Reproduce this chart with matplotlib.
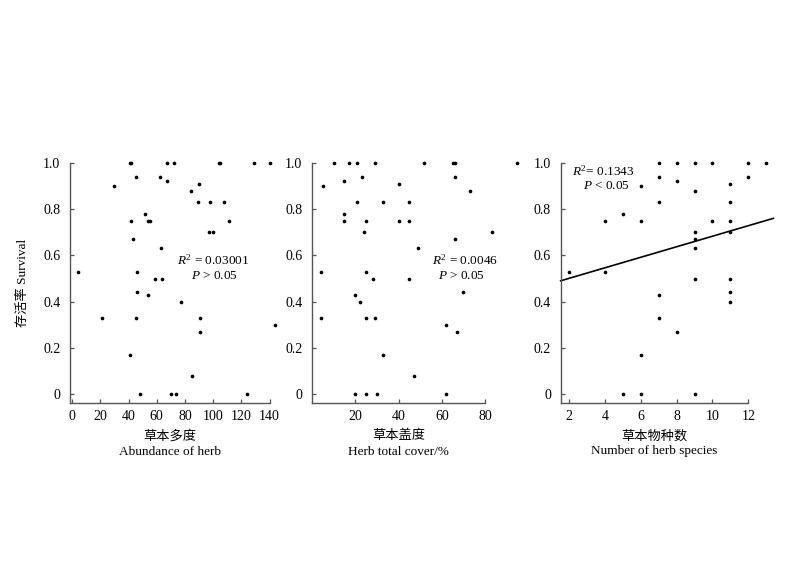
import matplotlib
matplotlib.use("Agg")
import matplotlib.pyplot as plt
import numpy as np

plt.rcParams['font.family'] = ['Liberation Serif', 'Noto Sans CJK SC']
plt.rcParams['mathtext.fontset'] = 'custom'
plt.rcParams['mathtext.rm'] = 'Liberation Serif'
plt.rcParams['mathtext.it'] = 'Liberation Serif:italic'

# Panel 1: abundance of herb
abund_x = [41, 42, 67, 72, 104, 105, 129, 140, 45, 62, 30, 67, 84, 90, 89, 98, 108, 111,
           42, 52, 54, 55, 97, 100, 43, 63, 4, 46, 59, 64, 46, 54, 77, 21, 45, 91, 91, 144,
           41, 85, 48, 70, 74, 124]
abund_y = [1.0, 1.0, 1.0, 1.0, 1.0, 1.0, 1.0, 1.0, 0.94, 0.94, 0.90, 0.92, 0.88, 0.91, 0.83, 0.83, 0.83, 0.75,
           0.75, 0.78, 0.75, 0.75, 0.70, 0.70, 0.67, 0.63, 0.53, 0.53, 0.50, 0.50, 0.44, 0.43, 0.40, 0.33, 0.33, 0.33, 0.27, 0.30,
           0.17, 0.08, 0.0, 0.0, 0.0, 0.0]

# Panel 2: herb total cover
cover_x = [10, 17, 21, 29, 52, 65, 66, 95, 5, 15, 23, 40, 66, 73, 21, 33, 45, 15, 15, 25, 40, 45,
           24, 83, 66, 49, 4, 25, 28, 45, 70, 20, 22, 4, 25, 29, 62, 67, 33, 47, 20, 25, 30, 62]
cover_y = [1.0, 1.0, 1.0, 1.0, 1.0, 1.0, 1.0, 1.0, 0.90, 0.92, 0.94, 0.91, 0.94, 0.88, 0.83, 0.83, 0.83, 0.78, 0.75, 0.75, 0.75, 0.75,
           0.70, 0.70, 0.67, 0.63, 0.53, 0.53, 0.50, 0.50, 0.44, 0.43, 0.40, 0.33, 0.33, 0.33, 0.30, 0.27, 0.17, 0.08, 0.0, 0.0, 0.0, 0.0]

# Panel 3: number of herb species
spec_x = [7, 8, 9, 10, 12, 13, 7, 12, 6, 8, 11, 9, 7, 11, 5, 4, 6, 10, 11, 9, 11, 9, 9,
          2, 4, 9, 11, 11, 7, 11, 7, 8, 6, 5, 6, 9]
spec_y = [1.0, 1.0, 1.0, 1.0, 1.0, 1.0, 0.94, 0.94, 0.90, 0.92, 0.91, 0.88, 0.83, 0.83, 0.78, 0.75, 0.75, 0.75, 0.75, 0.70, 0.70, 0.67, 0.63,
          0.53, 0.53, 0.50, 0.50, 0.44, 0.43, 0.40, 0.33, 0.27, 0.17, 0.0, 0.0, 0.0]

# fitted line for panel 3
fit_intercept = 0.455
fit_slope = 0.0228
fit_xrange = [1.54, 13.4]

y_ticks = [0, 0.2, 0.4, 0.6, 0.8, 1.0]
y_ticklabels = ["0", "0.2", "0.4", "0.6", "0.8", "1.0"]

panels = [
    dict(x=abund_x, y=abund_y, xlim=(-1.5, 140), xticks=[0, 20, 40, 60, 80, 100, 120, 140],
         cn="草本多度", en="Abundance of herb",
         r2=r"$R^2$ = 0.03001", p=r"$P$ > 0.05", tpos=(100, 0.58), ppos=(101, 0.51),
         rect=[0.0875, 0.2867, 0.2494, 0.4248]),
    dict(x=cover_x, y=cover_y, xlim=(0, 80), xticks=[20, 40, 60, 80],
         cn="草本盖度", en="Herb total cover/%",
         r2=r"$R^2$ = 0.0046", p=r"$P$ > 0.05", tpos=(70.8, 0.58), ppos=(69, 0.51),
         rect=[0.390, 0.2867, 0.2163, 0.4248]),
    dict(x=spec_x, y=spec_y, xlim=(1.54, 12), xticks=[2, 4, 6, 8, 10, 12],
         cn="草本物种数", en="Number of herb species",
         r2=r"$R^2$= 0.1343", p=r"$P$ < 0.05", tpos=(3.9, 0.964), ppos=(4.1, 0.90),
         rect=[0.7009, 0.2867, 0.2345, 0.4248]),
]

fig = plt.figure(figsize=(8, 5.65), dpi=100)
spine_col = '#555555'

for i, pnl in enumerate(panels):
    ax = fig.add_axes(pnl['rect'])
    ax.scatter(pnl['x'], pnl['y'], s=7, color='black', clip_on=False, zorder=3, linewidths=0)
    ax.set_xlim(*pnl['xlim'])
    ax.set_ylim(-0.039, 1.0)
    ax.set_xticks(pnl['xticks'])
    ax.set_xticklabels([str(t) for t in pnl['xticks']])
    ax.set_yticks(y_ticks)
    ax.set_yticklabels(y_ticklabels)
    for s in ['top', 'right']:
        ax.spines[s].set_visible(False)
    for s in ['left', 'bottom']:
        ax.spines[s].set_color(spine_col)
        ax.spines[s].set_linewidth(1.0)
    ax.tick_params(axis='y', direction='in', length=3, width=0.9, color=spine_col, labelsize=10, pad=7)
    ax.tick_params(axis='x', direction='in', length=3, width=0.9, color=spine_col, labelsize=10, pad=5)
    ax.set_xlabel(pnl['cn'] + "\n" + pnl['en'], fontsize=9.5, labelpad=5, linespacing=1.35)
    ax.text(pnl['tpos'][0], pnl['tpos'][1], pnl['r2'], ha='center', va='center', fontsize=9.5)
    ax.text(pnl['ppos'][0], pnl['ppos'][1], pnl['p'], ha='center', va='center', fontsize=9.5)
    if i == 0:
        ax.set_ylabel("存活率 Survival", fontsize=9.5, labelpad=10)
    if i == 2:
        xs = np.array(fit_xrange)
        ax.plot(xs, fit_intercept + fit_slope * xs, color='black', lw=1.2, clip_on=False)

fig.savefig("out.png", dpi=100)
